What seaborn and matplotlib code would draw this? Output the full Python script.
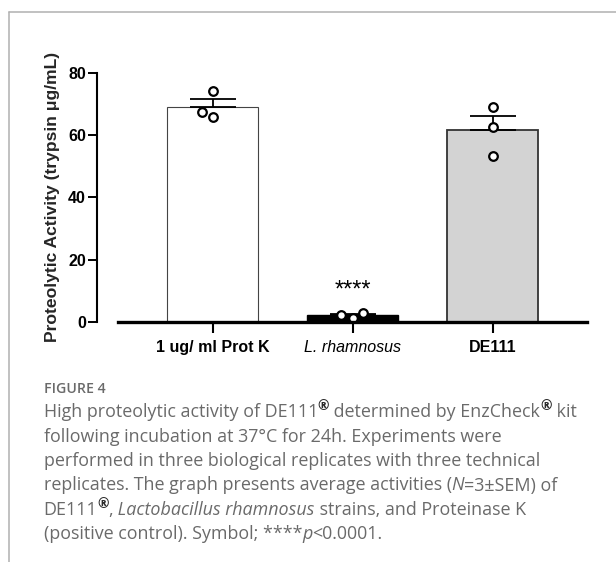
import numpy as np
import pandas as pd
import matplotlib
matplotlib.use("Agg")
import matplotlib.pyplot as plt
from matplotlib.lines import Line2D
import seaborn as sns

# ---------------- data ----------------
categories = ["1 ug/ ml Prot K", "L. rhamnosus", "DE111"]
protk_values = [74.0, 65.8, 67.4]
rhamnosus_values = [1.4, 3.0, 2.25]
de111_values = [69.0, 62.5, 53.2]
y_ticks = [0, 20, 40, 60, 80]
y_label = "Proteolytic Activity (trypsin \u03bcg/mL)"
signif_label = "****"

bar_fill = ["#ffffff", "#000000", "#d3d3d3"]
bar_edge = ["#444444", "#000000", "#333333"]
bar_lw = [0.8, 1.0, 1.3]

df = pd.DataFrame({
    "group": np.repeat(categories, 3),
    "value": protk_values + rhamnosus_values + de111_values,
})

sns.set_theme(style="white")
plt.rcParams["font.family"] = ["Liberation Sans", "DejaVu Sans"]

W, H = 616, 562
fig = plt.figure(figsize=(W / 100, H / 100), dpi=100)
fig.patch.set_facecolor("white")

def fx(px):
    return px / W

def fy(py):
    return 1 - py / H

ax = fig.add_axes([fx(97), fy(322), (587 - 97) / W, (322 - 72.7) / H])
ax.set_facecolor("white")

sns.barplot(data=df, x="group", y="value", order=categories, hue="group",
            hue_order=categories, palette=bar_fill, legend=False,
            errorbar=None, width=0.657, ax=ax, zorder=2)
for p, ec, lw in zip(ax.patches, bar_edge, bar_lw):
    p.set_edgecolor(ec)
    p.set_linewidth(lw)

# SEM error bars (upper only, Prism style)
groups = [protk_values, rhamnosus_values, de111_values]
means = [np.mean(g) for g in groups]
sems = [np.std(g, ddof=1) / np.sqrt(len(g)) for g in groups]
pos = np.arange(len(categories))
ax.errorbar(pos, means, yerr=[np.zeros(len(means)), sems], fmt="none",
            ecolor="black", elinewidth=1.3, capsize=16.5, capthick=1.3,
            zorder=3)

sns.swarmplot(data=df, x="group", y="value", order=categories, color="white",
              edgecolor="black", linewidth=1.6, size=6.2, ax=ax, zorder=4)

ax.text(1, 8.3, signif_label, ha="center", va="baseline", fontsize=17,
        color="black", zorder=5)

ax.set_xlim(-0.825, 2.675)
ax.set_ylim(0, 80)
ax.set_yticks(y_ticks)
ax.set_yticklabels([str(t) for t in y_ticks], fontsize=11.5, fontweight="bold")
ax.set_xticks(pos)
ax.set_xticklabels(categories, fontsize=11.5)
for lbl in ax.get_xticklabels():
    if lbl.get_text().startswith("L."):
        lbl.set_fontstyle("italic")
    else:
        lbl.set_fontweight("bold")
ax.set_xlabel("")
ax.set_ylabel(y_label, fontsize=12.6, fontweight="bold")
ax.yaxis.set_label_coords(-0.076, 0.5)

for s in ["top", "right"]:
    ax.spines[s].set_visible(False)
ax.spines["left"].set_linewidth(1.5)
ax.spines["left"].set_color("black")
ax.spines["left"].set_bounds(0, 80)
ax.spines["bottom"].set_linewidth(2.4)
ax.spines["bottom"].set_color("black")
ax.spines["bottom"].set_bounds(-0.675, 2.675)
ax.spines["bottom"].set_zorder(6)
ax.tick_params(axis="y", direction="out", length=6.5, width=1.4, pad=1.5,
               left=True, colors="black")
ax.tick_params(axis="x", direction="out", length=8, width=1.5, pad=5,
               bottom=True, colors="black")
ax.grid(False)

# ---------------- frame lines ----------------
fig.add_artist(Line2D([fx(9.3), 1], [fy(12.4), fy(12.4)], color="#b0b0b0",
                      lw=1.1, transform=fig.transFigure))
fig.add_artist(Line2D([fx(9.3), fx(9.3)], [fy(12.4), 0], color="#b0b0b0",
                      lw=1.1, transform=fig.transFigure))

# ---------------- caption ----------------
cap_font = ["Open Sans", "DejaVu Sans"]
cap_color = "#6a6a6a"
cap_size = 12.9
renderer = fig.canvas.get_renderer()

fig.text(fx(43.5), fy(393.3), "FIGURE 4", fontsize=10.2, color="#6a6a6a",
         family=cap_font, fontweight="semibold", va="baseline")

caption_lines = [
    [("High proteolytic activity of DE111", "n"), ("\u00ae", "sup"),
     (" determined by EnzCheck", "n"), ("\u00ae", "sup"), (" kit", "n")],
    [("following incubation at 37\u00b0C for 24h. Experiments were", "n")],
    [("performed in three biological replicates with three technical", "n")],
    [("replicates. The graph presents average activities (", "n"), ("N", "i"),
     ("=3\u00b1SEM) of", "n")],
    [("DE111", "n"), ("\u00ae", "sup"), (",", "n"),
     (" Lactobacillus rhamnosus", "i"), (" strains, and Proteinase K", "n")],
    [("(positive control). Symbol; ****", "n"), ("p", "i"), ("<0.0001.", "n")],
]

base0 = 417.3
step = 24.4
for k, segs in enumerate(caption_lines):
    x = 43.5
    yb = base0 + k * step
    for txt, kind in segs:
        kw = dict(family=cap_font, color=cap_color, va="baseline",
                  fontsize=cap_size)
        yy = yb
        if kind == "i":
            kw["fontstyle"] = "italic"
        elif kind == "sup":
            kw["fontsize"] = 10
            kw["fontweight"] = "bold"
            kw["color"] = "#2a2a2a"
            yy = yb - 7
        t = fig.text(fx(x), fy(yy), txt, **kw)
        x += t.get_window_extent(renderer).width

fig.savefig("out.png", dpi=100, facecolor="white")
